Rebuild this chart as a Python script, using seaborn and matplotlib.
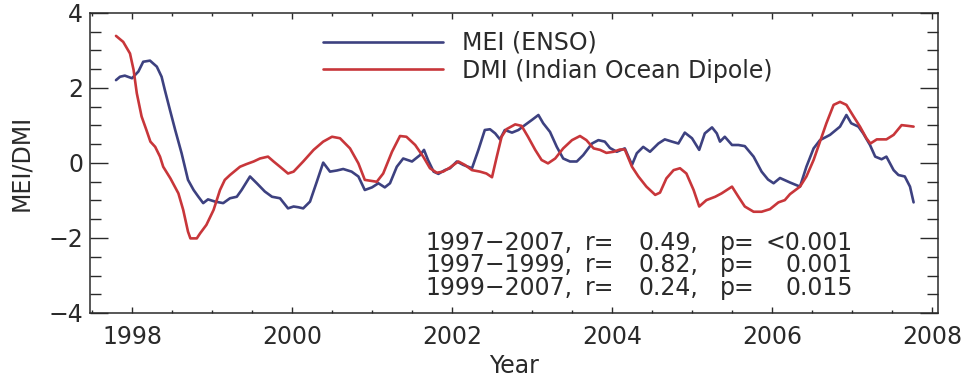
import matplotlib
matplotlib.use("Agg")
import matplotlib.pyplot as plt
import pandas as pd
import seaborn as sns
from matplotlib.ticker import MultipleLocator

# Multivariate ENSO Index, sampled along the curve (decimal year, index)
mei_year = [1997.80, 1997.85, 1997.91, 1998.00, 1998.08, 1998.14, 1998.225, 1998.31,
            1998.37, 1998.41, 1998.475, 1998.54, 1998.62, 1998.70, 1998.77, 1998.83,
            1998.89, 1998.95, 1999.04, 1999.14, 1999.225, 1999.31, 1999.37, 1999.475,
            1999.56, 1999.66, 1999.75, 1999.85, 1999.95, 2000.02, 2000.08, 2000.14,
            2000.225, 2000.31, 2000.39, 2000.475, 2000.56, 2000.64, 2000.745, 2000.83,
            2000.91, 2001.00, 2001.08, 2001.16, 2001.225, 2001.31, 2001.39, 2001.50,
            2001.60, 2001.65, 2001.70, 2001.77, 2001.83, 2001.91, 2001.975, 2002.06,
            2002.14, 2002.25, 2002.33, 2002.41, 2002.475, 2002.54, 2002.60, 2002.66,
            2002.75, 2002.83, 2002.91, 2003.00, 2003.08, 2003.14, 2003.225, 2003.31,
            2003.39, 2003.475, 2003.56, 2003.64, 2003.75, 2003.83, 2003.91, 2003.975,
            2004.06, 2004.16, 2004.25, 2004.31, 2004.39, 2004.475, 2004.58, 2004.66,
            2004.75, 2004.83, 2004.91, 2005.00, 2005.09, 2005.16, 2005.25, 2005.31,
            2005.35, 2005.41, 2005.50, 2005.58, 2005.66, 2005.77, 2005.87, 2005.95,
            2006.02, 2006.10, 2006.225, 2006.35, 2006.43, 2006.52, 2006.60, 2006.725,
            2006.85, 2006.93, 2006.99, 2007.08, 2007.14, 2007.225, 2007.29, 2007.37,
            2007.43, 2007.52, 2007.58, 2007.66, 2007.725, 2007.77]
mei_value = [2.21, 2.30, 2.33, 2.26, 2.44, 2.70, 2.73, 2.57,
             2.30, 1.95, 1.41, 0.88, 0.26, -0.45, -0.72, -0.90,
             -1.07, -0.97, -1.03, -1.07, -0.94, -0.90, -0.72, -0.36,
             -0.54, -0.76, -0.90, -0.94, -1.21, -1.16, -1.18, -1.21,
             -1.03, -0.50, 0.01, -0.23, -0.20, -0.16, -0.23, -0.36,
             -0.72, -0.65, -0.54, -0.65, -0.54, -0.10, 0.12, 0.04,
             0.21, 0.35, 0.08, -0.23, -0.29, -0.19, -0.14, 0.04,
             -0.05, -0.14, 0.35, 0.88, 0.90, 0.79, 0.63, 0.88,
             0.81, 0.88, 1.01, 1.15, 1.28, 1.06, 0.83, 0.43,
             0.12, 0.04, 0.04, 0.21, 0.52, 0.61, 0.57, 0.40,
             0.30, 0.39, -0.05, 0.26, 0.43, 0.30, 0.52, 0.63,
             0.57, 0.52, 0.81, 0.66, 0.35, 0.79, 0.95, 0.79,
             0.57, 0.70, 0.48, 0.48, 0.45, 0.17, -0.23, -0.44,
             -0.54, -0.40, -0.52, -0.63, -0.10, 0.39, 0.61, 0.75,
             0.97, 1.28, 1.06, 0.97, 0.79, 0.48, 0.17, 0.10,
             0.17, -0.19, -0.32, -0.36, -0.63, -1.05]

# Dipole Mode Index of the Indian Ocean (decimal year, index)
dmi_year = [1997.80, 1997.89, 1997.975, 1998.02, 1998.06, 1998.12, 1998.18, 1998.23,
            1998.29, 1998.35, 1998.39, 1998.48, 1998.58, 1998.64, 1998.70, 1998.73,
            1998.81, 1998.85, 1998.93, 1999.02, 1999.10, 1999.16, 1999.225, 1999.35,
            1999.43, 1999.52, 1999.60, 1999.70, 1999.77, 1999.85, 1999.95, 2000.02,
            2000.14, 2000.27, 2000.39, 2000.50, 2000.60, 2000.725, 2000.83, 2000.91,
            2001.06, 2001.14, 2001.25, 2001.35, 2001.43, 2001.54, 2001.64, 2001.725,
            2001.81, 2001.89, 2001.975, 2002.02, 2002.08, 2002.16, 2002.25, 2002.35,
            2002.43, 2002.50, 2002.56, 2002.62, 2002.68, 2002.79, 2002.87, 2002.95,
            2003.04, 2003.12, 2003.20, 2003.29, 2003.39, 2003.50, 2003.60, 2003.68,
            2003.77, 2003.85, 2003.93, 2004.02, 2004.10, 2004.16, 2004.25, 2004.33,
            2004.43, 2004.54, 2004.60, 2004.68, 2004.77, 2004.85, 2004.93, 2005.02,
            2005.09, 2005.18, 2005.29, 2005.37, 2005.50, 2005.58, 2005.66, 2005.77,
            2005.87, 2005.975, 2006.08, 2006.16, 2006.225, 2006.35, 2006.43, 2006.52,
            2006.60, 2006.68, 2006.77, 2006.85, 2006.93, 2007.02, 2007.10, 2007.18,
            2007.23, 2007.31, 2007.43, 2007.52, 2007.62, 2007.70, 2007.77]
dmi_value = [3.39, 3.23, 2.92, 2.48, 1.86, 1.24, 0.88, 0.57,
             0.43, 0.17, -0.10, -0.41, -0.81, -1.25, -1.83, -2.01,
             -2.01, -1.88, -1.65, -1.25, -0.72, -0.45, -0.32, -0.10,
             -0.03, 0.04, 0.12, 0.17, 0.04, -0.10, -0.28, -0.23,
             0.04, 0.35, 0.57, 0.70, 0.66, 0.39, -0.01, -0.45,
             -0.50, -0.28, 0.30, 0.72, 0.70, 0.48, 0.17, -0.14,
             -0.26, -0.23, -0.12, -0.05, 0.04, -0.05, -0.19, -0.23,
             -0.28, -0.38, 0.17, 0.70, 0.90, 1.03, 0.99, 0.70,
             0.35, 0.08, -0.01, 0.12, 0.39, 0.61, 0.72, 0.61,
             0.39, 0.35, 0.27, 0.30, 0.36, 0.36, -0.10, -0.36,
             -0.63, -0.85, -0.79, -0.41, -0.19, -0.14, -0.28, -0.72,
             -1.16, -0.99, -0.90, -0.81, -0.63, -0.90, -1.16, -1.30,
             -1.30, -1.23, -1.05, -0.99, -0.83, -0.63, -0.36, 0.08,
             0.57, 1.06, 1.55, 1.63, 1.55, 1.24, 0.97, 0.66,
             0.52, 0.63, 0.63, 0.75, 1.01, 0.99, 0.97]

series_labels = ["MEI (ENSO)", "DMI (Indian Ocean Dipole)"]
year_ticks = [1998, 2000, 2002, 2004, 2006, 2008]
index_ticks = [-4, -2, 0, 2, 4]

# correlation summary
stats_periods = ["1997\u22122007,", "1997\u22121999,", "1999\u22122007,"]
stats_r = ["0.49,", "0.82,", "0.24,"]
stats_p = ["<0.001", "0.001", "0.015"]

BLUE = "#3d4180"
RED = "#c8363a"
INK = "#2a2a2a"

sns.set_style("white")
plt.rcParams["font.family"] = ["DejaVu Sans"]
plt.rcParams["text.color"] = INK
plt.rcParams["axes.labelcolor"] = INK
plt.rcParams["xtick.color"] = INK
plt.rcParams["ytick.color"] = INK

FS = 17

fig = plt.figure(figsize=(9.68, 3.81), dpi=100)
ax = fig.add_axes([90 / 968, 1 - 313 / 381, 848 / 968, 300 / 381])

mei = pd.DataFrame({"year": mei_year, "value": mei_value})
dmi = pd.DataFrame({"year": dmi_year, "value": dmi_value})
sns.lineplot(data=mei, x="year", y="value", ax=ax, color=BLUE, lw=1.9,
             sort=False, label=series_labels[0])
sns.lineplot(data=dmi, x="year", y="value", ax=ax, color=RED, lw=1.9,
             sort=False, label=series_labels[1])

ax.set_xlim(1997.475, 2008.075)
ax.set_ylim(-4, 4)
ax.set_xticks(year_ticks)
ax.set_xticklabels([str(y) for y in year_ticks])
ax.set_yticks(index_ticks)
ax.set_yticklabels([f"{v:d}".replace("-", "\u2212") for v in index_ticks])
ax.xaxis.set_minor_locator(MultipleLocator(0.5))
ax.yaxis.set_minor_locator(MultipleLocator(0.5))

ax.tick_params(axis="x", which="major", direction="in", length=4.5, width=1,
               top=True, bottom=True, labelsize=FS, pad=9)
ax.tick_params(axis="x", which="minor", direction="in", length=2.5, width=1,
               top=True, bottom=True)
ax.tick_params(axis="y", which="major", direction="in", length=13, width=1,
               left=True, right=True, labelsize=FS, pad=5)
ax.tick_params(axis="y", which="minor", direction="in", length=8, width=1,
               left=True, right=True)
for sp in ax.spines.values():
    sp.set_color(INK)
    sp.set_linewidth(1.1)

ax.set_xlabel("Year", fontsize=FS)
ax.set_ylabel("MEI/DMI", fontsize=FS)
ax.xaxis.set_label_coords(0.5, (313 - 354) / 300)
ax.yaxis.set_label_coords((33 - 90) / 848, 0.5)

ax.legend(loc="upper left", bbox_to_anchor=((323 - 90) / 848, (313 - 31) / 300),
          frameon=False, fontsize=FS, handlelength=5.1, handletextpad=0.8,
          labelspacing=0.15, borderpad=0, borderaxespad=0)


def ax_x(px):
    return (px - 90) / 848


# three-row table: one multi-line text per column keeps the rows aligned;
# a multi-line text with va="baseline" is anchored on its last row
y_last = (313 - 295) / 300
col_kw = dict(transform=ax.transAxes, fontsize=FS, va="baseline", linespacing=0.93)
ax.text(ax_x(425), y_last, "\n".join(stats_periods), ha="left", **col_kw)
ax.text(ax_x(585), y_last, "\n".join(["r="] * len(stats_r)), ha="left", **col_kw)
ax.text(ax_x(698), y_last, "\n".join(stats_r), ha="right", **col_kw)
ax.text(ax_x(720), y_last, "\n".join(["p="] * len(stats_p)), ha="left", **col_kw)
ax.text(ax_x(853), y_last, "\n".join(stats_p), ha="right", **col_kw)

fig.savefig("out.png", dpi=100)
